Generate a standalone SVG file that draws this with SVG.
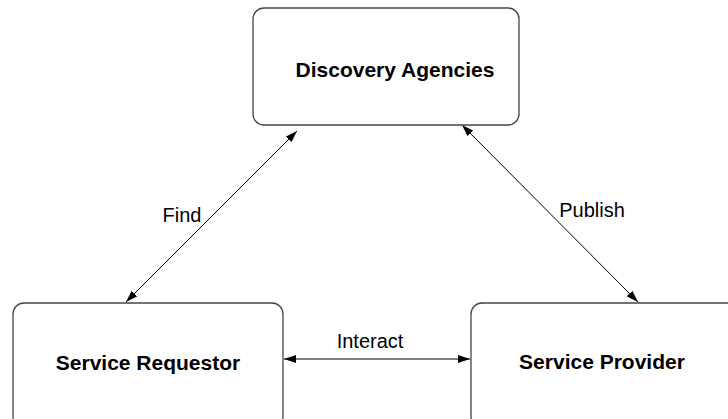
<svg xmlns="http://www.w3.org/2000/svg" width="728" height="419" viewBox="0 0 728 419">
<style>
.box{fill:#fff;stroke:#444;stroke-width:1.3}
.t{font-family:"Liberation Sans",Arial,sans-serif;font-weight:bold;font-size:21px;text-anchor:middle;fill:#000}
.lbl{font-family:"Liberation Sans",Arial,sans-serif;font-size:20px;text-anchor:middle;fill:#000}
.c{stroke:#000;stroke-width:1;fill:none;marker-start:url(#ah);marker-end:url(#ah)}
.ci{stroke:#555;stroke-width:1.5;fill:none;marker-start:url(#ah);marker-end:url(#ah)}
</style>
<defs>
<marker id="ah" viewBox="0 0 12 8" refX="12" refY="4" markerWidth="12" markerHeight="8" markerUnits="userSpaceOnUse" orient="auto-start-reverse">
<path d="M0,0 L12,4 L0,8 Z" fill="#000"/>
</marker>
</defs>
<rect width="728" height="419" fill="#fff"/>
<g id="connectors">
<line class="c" x1="126" y1="302" x2="297" y2="131"/>
<line class="c" x1="462" y1="125" x2="638" y2="302"/>
<line class="ci" x1="284" y1="359" x2="470" y2="359"/>
<text class="lbl" x="182" y="222">Find</text>
<text class="lbl" x="592" y="217">Publish</text>
<text class="lbl" x="370" y="348">Interact</text>
</g>
<g id="discovery">
<rect class="box" x="253" y="8" width="266" height="117" rx="11"/>
<text class="t" x="395" y="77">Discovery Agencies</text>
</g>
<g id="requestor">
<rect class="box" x="13" y="303" width="270" height="125" rx="11"/>
<text class="t" x="148" y="370">Service Requestor</text>
</g>
<g id="provider">
<rect class="box" x="471" y="303" width="270" height="125" rx="11"/>
<text class="t" x="602" y="369">Service Provider</text>
</g>
</svg>
